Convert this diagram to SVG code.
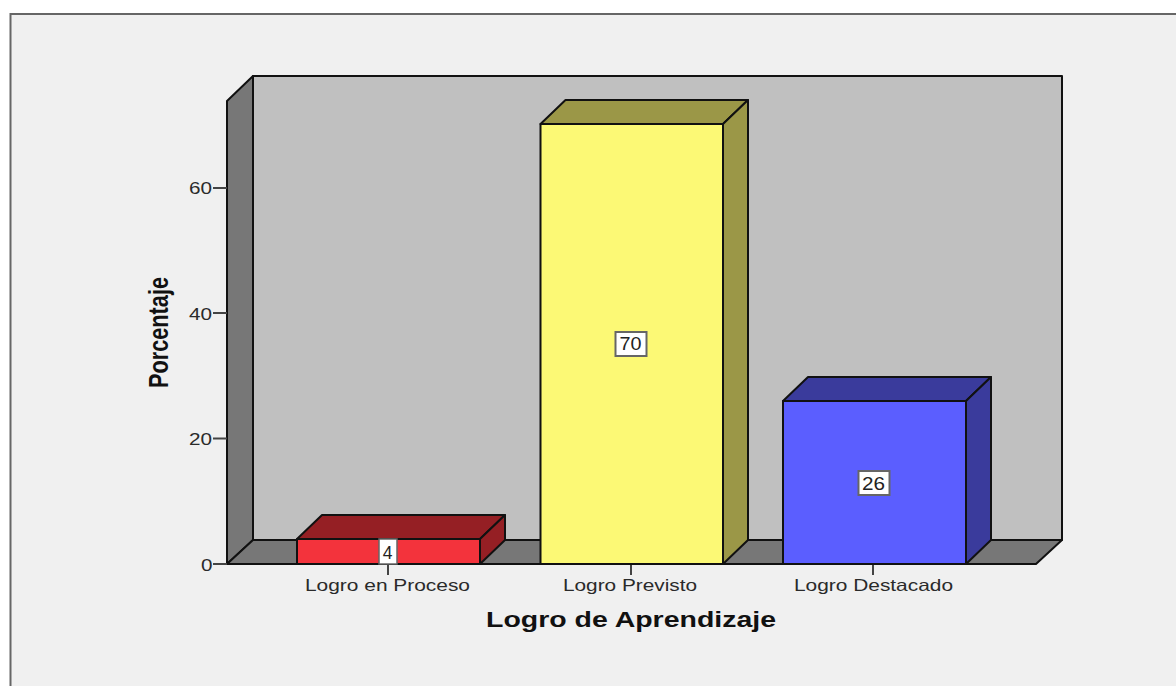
<svg xmlns="http://www.w3.org/2000/svg" width="1176" height="686" viewBox="0 0 1176 686">
<style>
.s{stroke:#111;stroke-width:2;stroke-linejoin:round}
.t{font-family:"Liberation Sans",Arial,sans-serif;font-size:16.500px;fill:#2a2a2a}
.b{font-family:"Liberation Sans",Arial,sans-serif;font-weight:bold;fill:#111}
.k{stroke:#444;stroke-width:2;fill:none}
.l{fill:#fff;stroke:#666;stroke-width:2}
.v{font-family:"Liberation Sans",Arial,sans-serif;font-size:17.500px;fill:#222;text-anchor:middle}
</style>
<rect width="1176" height="686" fill="#fff"/>
<path d="M10.500 686V14H1176V686Z" fill="#f0f0f0"/>
<path d="M10.500 686V14H1176" fill="none" stroke="#666" stroke-width="2"/>
<g id="chart-walls">
<rect class="s" x="253" y="76" width="809" height="464" fill="#c0c0c0"/>
<path class="s" d="M227 101L253 76V540L227 564Z" fill="#777"/>
<path class="s" d="M227 564L253 540H1062L1036 564Z" fill="#777"/>
</g>
<g id="axes">
<path class="k" d="M213 564H227M213 438.500H227M213 313H227M213 188H227M388 565V575M631 565V575M873 565V575"/>
<text class="t" x="201" y="571" textLength="11.500" lengthAdjust="spacingAndGlyphs">0</text>
<text class="t" x="189" y="445" textLength="23" lengthAdjust="spacingAndGlyphs">20</text>
<text class="t" x="189" y="319.500" textLength="23" lengthAdjust="spacingAndGlyphs">40</text>
<text class="t" x="189" y="194" textLength="23" lengthAdjust="spacingAndGlyphs">60</text>
<text class="t" x="305" y="590.500" textLength="165" lengthAdjust="spacingAndGlyphs">Logro en Proceso</text>
<text class="t" x="563" y="590.500" textLength="134" lengthAdjust="spacingAndGlyphs">Logro Previsto</text>
<text class="t" x="794" y="590.500" textLength="159" lengthAdjust="spacingAndGlyphs">Logro Destacado</text>
<text class="b" x="486" y="627" font-size="22" textLength="290" lengthAdjust="spacingAndGlyphs">Logro de Aprendizaje</text>
<text class="b" transform="translate(167.500 388) rotate(-90)" font-size="28" textLength="111" lengthAdjust="spacingAndGlyphs">Porcentaje</text>
</g>
<g id="bar-proceso">
<path class="s" d="M297 539L322 515H505L480 539Z" fill="#951f24"/>
<path class="s" d="M480 539L505 515V540L480 564Z" fill="#951f24"/>
<rect class="s" x="297" y="539" width="183" height="25" fill="#f3333c"/>
<rect x="379" y="539" width="18" height="25" fill="#fff" stroke="#666" stroke-width="1.500"/>
<text class="v" x="387.500" y="558.500">4</text>
</g>
<g id="bar-previsto">
<path class="s" d="M540.500 124L565.500 100H748L723 124Z" fill="#9b9747"/>
<path class="s" d="M723 124L748 100V540L723 564Z" fill="#9b9747"/>
<rect class="s" x="540.500" y="124" width="182.500" height="440" fill="#fcf975"/>
<rect class="l" x="615.500" y="332" width="31" height="24"/>
<text class="v" x="619.500" y="350" style="text-anchor:start" textLength="22" lengthAdjust="spacingAndGlyphs">70</text>
</g>
<g id="bar-destacado">
<path class="s" d="M783 401L808 377H991L966 401Z" fill="#3a3b9c"/>
<path class="s" d="M966 401L991 377V540L966 564Z" fill="#3a3b9c"/>
<rect class="s" x="783" y="401" width="183" height="163" fill="#5b5eff"/>
<rect class="l" x="858.500" y="471" width="31" height="24"/>
<text class="v" x="862" y="489.500" style="text-anchor:start" textLength="23" lengthAdjust="spacingAndGlyphs">26</text>
</g>
</svg>
